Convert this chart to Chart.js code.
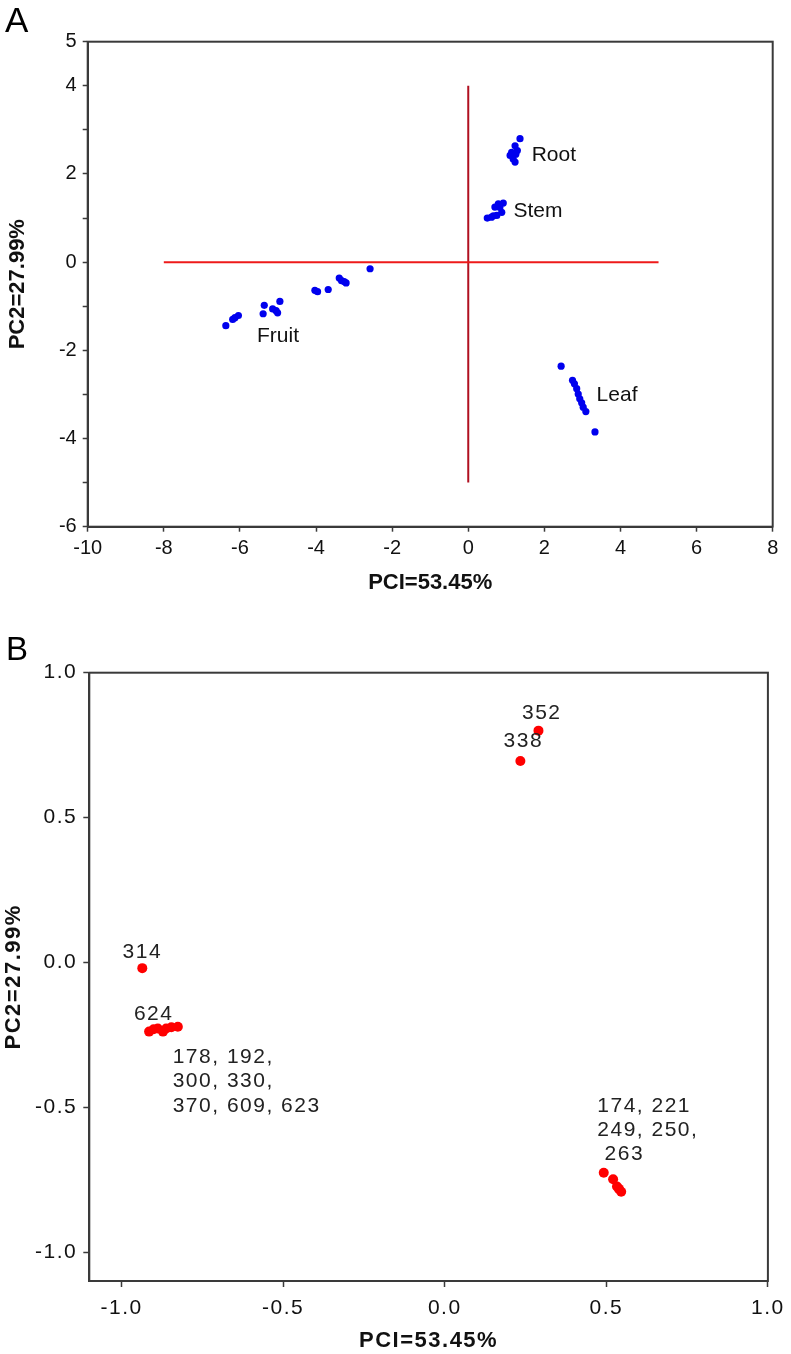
<!DOCTYPE html>
<html>
<head>
<meta charset="utf-8">
<script src="https://cdn.jsdelivr.net/npm/chart.js@4.4.0/dist/chart.umd.min.js"></script>
<style>
  body { margin: 0; background: #fff; }
  #wrap { position: relative; width: 791px; height: 1354px; }
  #chartA { position: absolute; left: 0; top: 0; }
  #chartB { position: absolute; left: 0; top: 600px; }
  .panel { position: absolute; font-family: 'Liberation Sans', Arial, sans-serif; color: #000; }
</style>
</head>
<body>
<div id="wrap">
  <canvas id="chartA" width="791" height="600"></canvas>
  <canvas id="chartB" width="791" height="754"></canvas>
  <div class="panel" style="left:5px;top:2px;font-size:35px;line-height:35px">A</div>
  <div class="panel" style="left:6px;top:632px;font-size:33px;line-height:33px">B</div>
</div>
<script>
// panel A - organ scores
const rootX = [1.36, 1.23, 1.29, 1.14, 1.10, 1.18, 1.23, 1.25];
const rootY = [2.80, 2.64, 2.53, 2.49, 2.42, 2.34, 2.27, 2.45];
const stemX = [0.92, 0.79, 0.70, 0.83, 0.88, 0.75, 0.61, 0.50, 0.66];
const stemY = [1.34, 1.32, 1.25, 1.24, 1.13, 1.06, 1.02, 1.00, 1.05];
const fruitX = [-2.58, -3.39, -3.33, -3.21, -3.26, -3.68, -4.03, -3.96, -4.95, -5.14, -5.05, -5.01, -5.36, -5.39, -6.04, -6.13, -6.19, -6.37];
const fruitY = [-0.15, -0.36, -0.42, -0.47, -0.44, -0.62, -0.64, -0.67, -0.89, -1.06, -1.10, -1.15, -0.98, -1.17, -1.21, -1.26, -1.30, -1.44];
const leafX = [2.44, 2.74, 2.79, 2.85, 2.89, 2.93, 2.98, 3.02, 3.09, 3.33];
const leafY = [-2.36, -2.68, -2.76, -2.87, -2.99, -3.10, -3.19, -3.29, -3.39, -3.85];

const hLineX = [-8, 5];
const hLineY = [0, 0];
const vLineX = [0, 0];
const vLineY = [4, -5];

const organNames = ['Root', 'Stem', 'Fruit', 'Leaf'];
const organLabelX = [2.25, 1.83, -5.0, 3.91];
const organLabelY = [2.43, 1.16, -1.67, -3.01];

const xTicksA = [-10, -8, -6, -4, -2, 0, 2, 4, 6, 8];
const yTicksA = [5, 4, 3, 2, 1, 0, -1, -2, -3, -4, -5, -6];
const yLabelsA = [5, 4, 2, 0, -2, -4, -6];

// panel B - loadings
const loadX = [-0.936, 0.290, 0.234,
  -0.915, -0.901, -0.888, -0.872, -0.862, -0.846, -0.826,
  0.492, 0.521, 0.533, 0.546, 0.539];
const loadY = [-0.020, 0.800, 0.695,
  -0.239, -0.231, -0.228, -0.239, -0.228, -0.224, -0.222,
  -0.726, -0.749, -0.774, -0.792, -0.782];

const idLabels = [['352'], ['338'], ['314'], ['624'],
  ['178, 192,', '300, 330,', '370, 609, 623'],
  ['174, 221', '249, 250,', ' 263']];
const idLabelX = [0.239, 0.182, -0.997, -0.962, -0.842, 0.472];
const idLabelY = [0.861, 0.764, 0.036, -0.178, -0.328, -0.496];

const ticksB = [-1.0, -0.5, 0.0, 0.5, 1.0];

const pts = (xs, ys) => xs.map((x, i) => ({ x: x, y: ys[i] }));

Chart.defaults.font.family = "'Liberation Sans', Arial, Helvetica, sans-serif";
Chart.defaults.color = '#111';

// box around the plot + optional letter spacing
const frame = {
  id: 'frame',
  beforeDraw(chart, args, o) {
    if (o.spacing) chart.ctx.letterSpacing = o.spacing;
  },
  beforeDatasetsDraw(chart) {
    const { ctx, chartArea: a } = chart;
    ctx.save();
    ctx.strokeStyle = '#3a3a3a';
    ctx.lineWidth = 2;
    ctx.strokeRect(a.left, a.top, a.right - a.left, a.bottom - a.top);
    ctx.restore();
  }
};

// text annotations placed in data units
const textLabels = {
  id: 'textLabels',
  afterDatasetsDraw(chart, args, o) {
    const { ctx, scales } = chart;
    ctx.save();
    ctx.font = o.font;
    ctx.fillStyle = o.color;
    ctx.textAlign = o.align;
    ctx.textBaseline = 'middle';
    o.items.forEach(it => {
      const px = scales.x.getPixelForValue(it.x);
      const py = scales.y.getPixelForValue(it.y);
      it.lines.forEach((line, i) => ctx.fillText(line, px, py + i * o.lineGap));
    });
    ctx.restore();
  }
};

function makeScale(o) {
  return {
    type: 'linear',
    position: o.pos,
    min: o.min,
    max: o.max,
    afterBuildTicks: s => { s.ticks = o.ticks.map(v => ({ value: v })); },
    afterFit: s => {
      if (o.pos === 'left') s.width = o.size;
      else s.height = o.size;
    },
    border: { display: true, color: '#3a3a3a', width: 2 },
    grid: { drawOnChartArea: false, drawTicks: true, tickLength: o.tickLen, tickColor: '#3a3a3a', tickWidth: 1.5 },
    ticks: { autoSkip: false, maxRotation: 0, padding: o.pad, font: { size: o.font }, color: '#111', callback: o.fmt },
    title: { display: true, text: o.title, color: '#111', font: { size: 22, weight: 'bold' }, padding: o.titlePad }
  };
}

const dotA = { backgroundColor: '#0000ee', borderWidth: 0, pointRadius: 3.6, pointHoverRadius: 3.6 };

new Chart(document.getElementById('chartA'), {
  type: 'scatter',
  data: {
    datasets: [
      { type: 'line', data: pts(hLineX, hLineY), borderColor: '#ee1a1a', borderWidth: 2, pointRadius: 0 },
      { type: 'line', data: pts(vLineX, vLineY), borderColor: '#b01020', borderWidth: 2, pointRadius: 0 },
      Object.assign({ label: 'Root', data: pts(rootX, rootY) }, dotA),
      Object.assign({ label: 'Stem', data: pts(stemX, stemY) }, dotA),
      Object.assign({ label: 'Fruit', data: pts(fruitX, fruitY) }, dotA),
      Object.assign({ label: 'Leaf', data: pts(leafX, leafY) }, dotA)
    ]
  },
  options: {
    responsive: false,
    animation: false,
    layout: { padding: { left: 0, top: 41.7, right: 18.3, bottom: 0 } },
    scales: {
      x: makeScale({ pos: 'bottom', min: -10, max: 8, ticks: xTicksA, size: 73.3, tickLen: 5, pad: 4.5, font: 20,
        fmt: v => String(v), title: 'PCI=53.45%', titlePad: { top: 0, bottom: 3.5 } }),
      y: makeScale({ pos: 'left', min: -6, max: 5, ticks: yTicksA, size: 87.7, tickLen: 5, pad: 6, font: 20,
        fmt: v => (yLabelsA.includes(v) ? String(v) : ''), title: 'PC2=27.99%', titlePad: { top: 5, bottom: 0 } })
    },
    plugins: {
      legend: { display: false },
      tooltip: { enabled: false },
      frame: {},
      textLabels: {
        font: "21px 'Liberation Sans', Arial, sans-serif", color: '#111', align: 'center', lineGap: 0,
        items: organNames.map((n, i) => ({ lines: [n], x: organLabelX[i], y: organLabelY[i] }))
      }
    }
  },
  plugins: [frame, textLabels]
});

new Chart(document.getElementById('chartB'), {
  type: 'scatter',
  data: {
    datasets: [
      { label: 'loadings', data: pts(loadX, loadY), backgroundColor: '#ff0000', borderWidth: 0, pointRadius: 5, pointHoverRadius: 5 }
    ]
  },
  options: {
    responsive: false,
    animation: false,
    layout: { padding: { left: 0, top: 72.7, right: 19.3, bottom: 0 } },
    scales: {
      x: makeScale({ pos: 'bottom', min: -1.1, max: 1.0, ticks: ticksB, size: 73, tickLen: 6, pad: 8.5, font: 21,
        fmt: v => v.toFixed(1), title: 'PCI=53.45%', titlePad: { top: 0, bottom: 0 } }),
      y: makeScale({ pos: 'left', min: -1.1, max: 1.0, ticks: ticksB, size: 89.3, tickLen: 6, pad: 6, font: 21,
        fmt: v => v.toFixed(1), title: 'PC2=27.99%', titlePad: { top: 1, bottom: 0 } })
    },
    plugins: {
      legend: { display: false },
      tooltip: { enabled: false },
      frame: { spacing: '1.5px' },
      textLabels: {
        font: "21px 'Liberation Sans', Arial, sans-serif", color: '#222', align: 'left', lineGap: 24.3,
        items: idLabels.map((l, i) => ({ lines: l, x: idLabelX[i], y: idLabelY[i] }))
      }
    }
  },
  plugins: [frame, textLabels]
});
</script>
</body>
</html>
